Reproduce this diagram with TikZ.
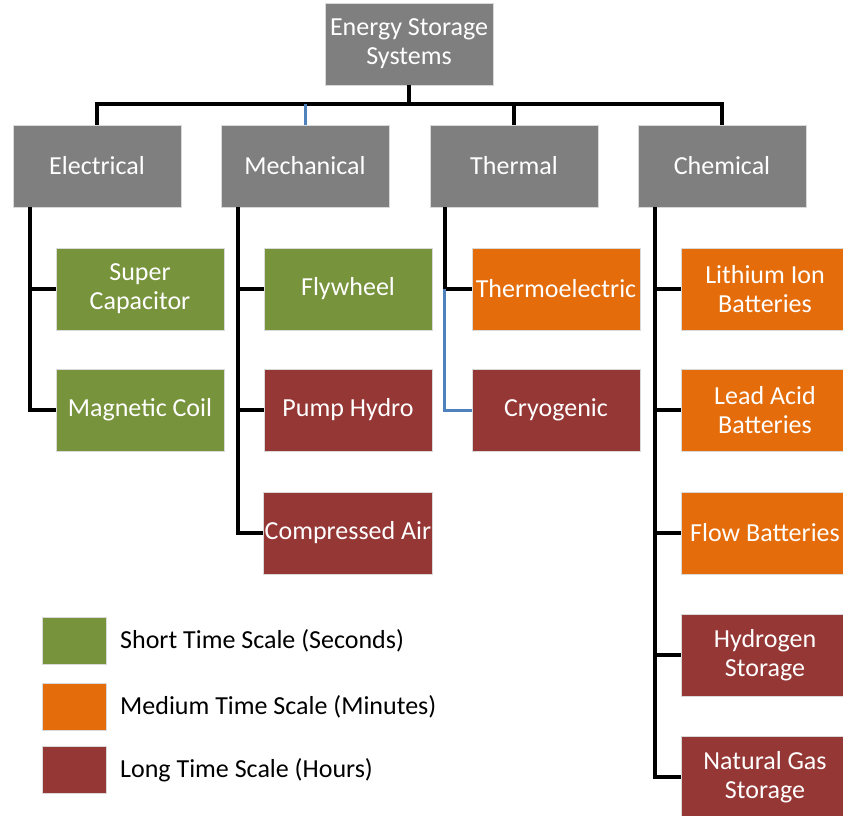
\documentclass[tikz,border=0pt]{standalone}
\usepackage{fontspec}
\setmainfont{Carlito}
\usepackage{tikz}
\usetikzlibrary{calc}
\definecolor{catgray}{HTML}{7F7F7F}
\definecolor{shortgreen}{HTML}{77933C}
\definecolor{medorange}{HTML}{E46C0A}
\definecolor{longred}{HTML}{953735}
\definecolor{linkblue}{HTML}{4F81BD}
\tikzset{
  esbox/.style={minimum width=168pt,minimum height=82pt,inner sep=1pt,
    align=center,text=white,font=\fontsize{26}{29}\selectfont,
    draw=white!85!black,line width=0.5pt},
  catbox/.style={esbox,fill=catgray},
  shortbox/.style={esbox,fill=shortgreen},
  medbox/.style={esbox,fill=medorange},
  longbox/.style={esbox,fill=longred},
  tlink/.style={line width=3.5pt,black},
  tlinkb/.style={line width=3pt,linkblue},
  legsq/.style={minimum width=64pt,minimum height=47pt,inner sep=0pt,
    draw=white!85!black,line width=0.5pt},
  leglbl/.style={anchor=west,font=\fontsize{26}{29}\selectfont,inner sep=0pt},
}
\begin{document}
\begin{tikzpicture}[x=1pt,y=-1pt]
  \useasboundingbox (0,0) rectangle (843,816);
  % top levels
  \node[catbox] (root) at (409,44) {Energy Storage\\Systems};
  \node[catbox] (elec) at (97,166) {Electrical};
  \node[catbox] (mech) at (305,166) {Mechanical};
  \node[catbox] (therm) at (514,166) {Thermal};
  \node[catbox] (chem) at (722,166) {Chemical};
  % children
  \node[shortbox] (supcap) at (140,289) {Super\\Capacitor};
  \node[shortbox] (magcoil) at (140,410) {Magnetic Coil};
  \node[shortbox] (flywheel) at (348,289) {Flywheel};
  \node[longbox] (pumphydro) at (348,410) {Pump Hydro};
  \node[longbox] (compair) at (348,533) {Compressed Air};
  \node[medbox] (thermoel) at (556,289) {Thermoelectric};
  \node[longbox] (cryo) at (556,410) {Cryogenic};
  \node[medbox] (lithium) at (765,289) {Lithium Ion\\Batteries};
  \node[medbox] (leadacid) at (765,410) {Lead Acid\\Batteries};
  \node[medbox] (flowbat) at (765,533) {Flow Batteries};
  \node[longbox] (hydrogen) at (765,655) {Hydrogen\\Storage};
  \node[longbox] (natgas) at (765,777) {Natural Gas\\Storage};
  % bus
  \coordinate (bus) at (409,104);
  \draw[tlink] (root.south) -- (bus);
  \draw[tlink] (elec.north) -- (elec.north |- bus) -- (chem.north |- bus) -- (chem.north);
  \draw[tlink] (therm.north) -- (therm.north |- bus);
  \draw[tlinkb] (mech.north) -- (mech.north |- bus);
  % trunks
  \coordinate (etrunk) at ($(elec.south west)+(17,0)$);
  \coordinate (mtrunk) at ($(mech.south west)+(17,0)$);
  \coordinate (ttrunk) at ($(therm.south west)+(15,0)$);
  \coordinate (ctrunk) at ($(chem.south west)+(17,0)$);
  \foreach \c in {supcap,magcoil} { \draw[tlink] (etrunk) |- (\c.west); }
  \foreach \c in {flywheel,pumphydro,compair} { \draw[tlink] (mtrunk) |- (\c.west); }
  \draw[tlink] (ttrunk) |- (thermoel.west);
  \draw[tlinkb] (ttrunk |- thermoel.west) |- (cryo.west);
  \foreach \c in {lithium,leadacid,flowbat,hydrogen,natgas} { \draw[tlink] (ctrunk) |- (\c.west); }
  % legend
  \node[legsq,fill=shortgreen] (legshort) at (74,641) {};
  \node[legsq,fill=medorange] (legmed) at (74,707) {};
  \node[legsq,fill=longred] (leglong) at (74,770) {};
  \node[leglbl] (lblshort) at (120,641) {Short Time Scale (Seconds)};
  \node[leglbl] (lblmed) at (120,707) {Medium Time Scale (Minutes)};
  \node[leglbl] (lbllong) at (120,770) {Long Time Scale (Hours)};
\end{tikzpicture}
\end{document}
